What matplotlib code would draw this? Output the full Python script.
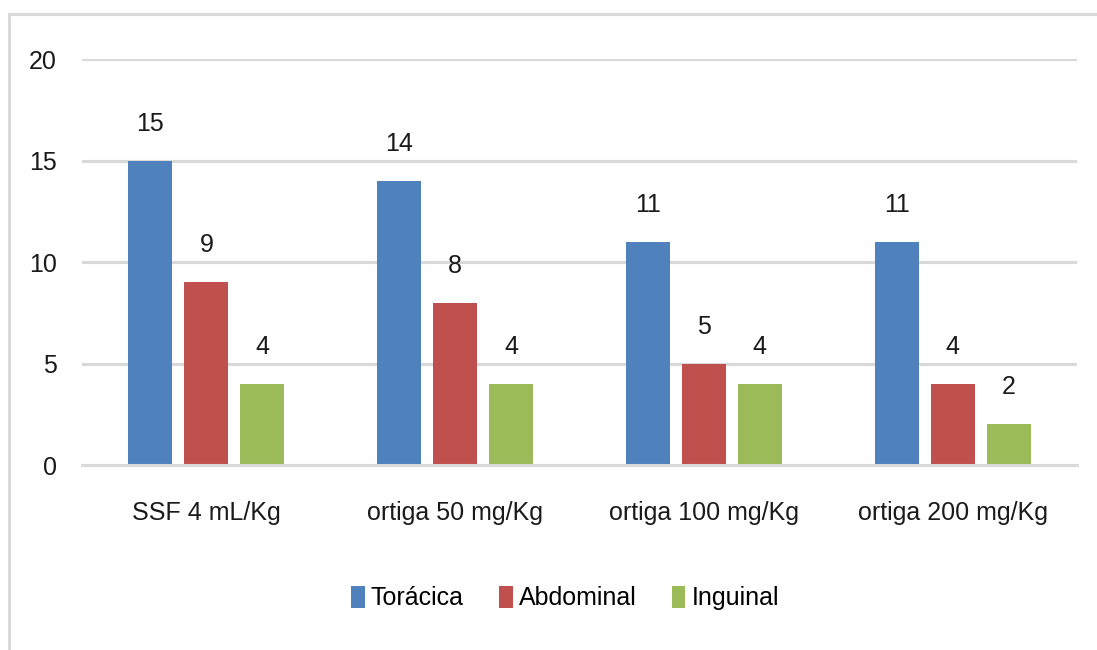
import matplotlib
matplotlib.use("Agg")
import matplotlib.pyplot as plt
from matplotlib.lines import Line2D
import numpy as np

categories = ["SSF 4 mL/Kg", "ortiga 50 mg/Kg", "ortiga 100 mg/Kg", "ortiga 200 mg/Kg"]
series_names = ["Torácica", "Abdominal", "Inguinal"]
toracica = [15, 14, 11, 11]
abdominal = [9, 8, 5, 4]
inguinal = [4, 4, 4, 2]
yticks = [0, 5, 10, 15, 20]

colors = ["#4F81BD", "#C0504D", "#9BBB59"]
plt.rcParams['font.family'] = ['Liberation Sans', 'DejaVu Sans']
FS = 18

fig = plt.figure(figsize=(10.97, 6.5), dpi=100)
ax = fig.add_axes([0.0747, 0.2846, 0.9818 - 0.0747, 0.909 - 0.2846])

# outer frame (partially cropped): top and left edges only
fx, fy = 9 / 1097, 1 - 14 / 650
fig.lines.append(Line2D([fx, 1.0], [fy, fy], transform=fig.transFigure,
                        color="#d9d9d9", linewidth=2.2))
fig.lines.append(Line2D([fx, fx], [0.0, fy], transform=fig.transFigure,
                        color="#d9d9d9", linewidth=2.2))

x = np.arange(len(categories))
width = 0.177
step = 0.225
values = [toracica, abdominal, inguinal]
for i, (name, vals, c) in enumerate(zip(series_names, values, colors)):
    bars = ax.bar(x + (i - 1) * step, vals, width, color=c, label=name, zorder=3)
    for b, v in zip(bars, vals):
        ax.annotate(str(v), (b.get_x() + b.get_width() / 2, v),
                    xytext=(0, 18), textcoords="offset points",
                    ha="center", va="bottom", fontsize=FS, color="#1a1a1a")

ax.set_xlim(-0.5, len(categories) - 0.5)
ax.set_ylim(0, 20)
ax.set_yticks(yticks)
ax.set_yticklabels([str(t) for t in yticks], fontsize=FS, color="#1a1a1a")
ax.set_xticks(x)
ax.set_xticklabels(categories, fontsize=FS, color="#1a1a1a")
ax.tick_params(axis="y", length=0, pad=18)
ax.tick_params(axis="x", length=0, pad=26)
ax.grid(axis="y", color="#d9d9d9", linewidth=2.2, zorder=0)
for s in ["top", "right", "left"]:
    ax.spines[s].set_visible(False)
ax.spines["bottom"].set_color("#d9d9d9")
ax.spines["bottom"].set_linewidth(2.2)
ax.spines["bottom"].set_zorder(4)

leg = fig.legend(loc="center", bbox_to_anchor=(565 / 1097, 1 - 598 / 650), ncol=3,
                 frameon=False, fontsize=FS, handlelength=0.55, handleheight=1.0,
                 handletextpad=0.25, columnspacing=1.4)

fig.savefig("out.png", dpi=100)
